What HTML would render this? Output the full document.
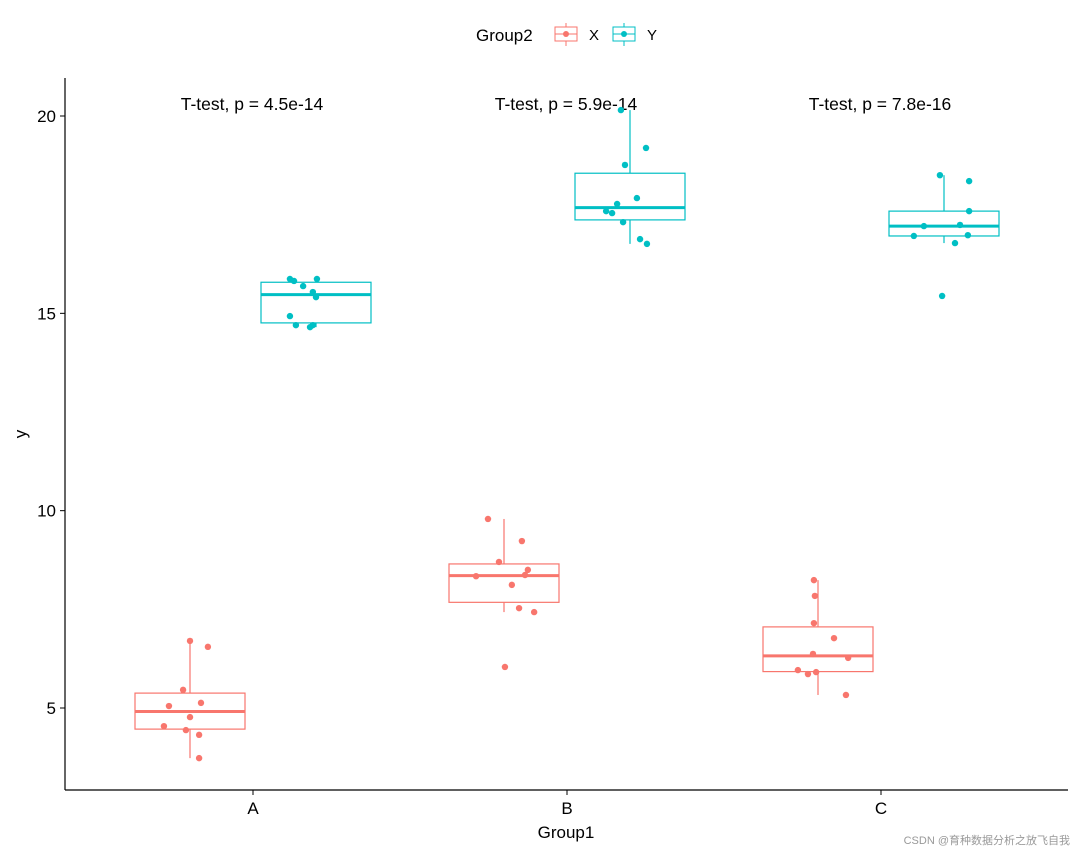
<!DOCTYPE html>
<html><head><meta charset="utf-8"><style>
body{margin:0;background:#fff}
svg text{font-family:"Liberation Sans",Arial,sans-serif}
</style></head><body>
<svg id="c" width="1080" height="852" xmlns="http://www.w3.org/2000/svg">
<g id="legend">
<text x="476" y="41" font-size="17" fill="#000">Group2</text>
<g>
<line x1="566" y1="23" x2="566" y2="46" stroke="#F8766D"/><rect x="555" y="27" width="22" height="14" fill="#fff" stroke="#F8766D"/><line x1="555" y1="34" x2="577" y2="34" stroke="#F8766D"/><circle cx="566" cy="34" r="3" fill="#F8766D"/>
<text x="589" y="40" font-size="15">X</text></g>
<g>
<line x1="624" y1="23" x2="624" y2="46" stroke="#00BFC4"/><rect x="613" y="27" width="22" height="14" fill="#fff" stroke="#00BFC4"/><line x1="613" y1="34" x2="635" y2="34" stroke="#00BFC4"/><circle cx="624" cy="34" r="3" fill="#00BFC4"/>
<text x="647" y="40" font-size="15">Y</text></g>
</g>
<g id="plot"></g>
<text x="1070" y="844" font-size="11" fill="#999" text-anchor="end" font-family="Liberation Sans, Noto Sans CJK SC, sans-serif">CSDN @育种数据分析之放飞自我</text>
</svg>
<script>
const categories=["A","B","C"];
const groups=["X","Y"];
const pvalues=["4.5e-14","5.9e-14","7.8e-16"];
const yTicks=[5,10,15,20];
const AX=[6.70,6.55,5.46,5.05,5.13,4.77,4.54,4.44,4.32,3.73];
const AXj=[0,0.057,-0.022,-0.067,0.035,0,-0.083,-0.013,0.029,0.029];
const BX=[9.79,9.23,8.70,8.34,8.50,8.37,8.12,7.53,7.43,6.04];
const BXj=[-0.051,0.057,-0.016,-0.089,0.076,0.067,0.025,0.048,0.096,0.003];
const CX=[8.24,7.84,7.15,6.77,6.37,6.27,5.96,5.86,5.91,5.33];
const CXj=[-0.013,-0.010,-0.013,0.051,-0.016,0.096,-0.064,-0.032,-0.006,0.089];
const AY=[15.87,15.82,15.87,15.69,15.54,15.41,14.93,14.70,14.65,14.70];
const AYj=[-0.083,-0.070,0.003,-0.041,-0.010,0,-0.083,-0.064,-0.019,-0.010];
const BY=[20.15,19.19,18.76,17.92,17.77,17.59,17.54,17.31,16.88,16.76];
const BYj=[-0.029,0.051,-0.016,0.022,-0.041,-0.076,-0.057,-0.022,0.032,0.054];
const CY=[18.50,18.35,17.59,17.24,17.21,16.98,16.96,16.78,15.44];
const CYj=[-0.013,0.080,0.080,0.051,-0.064,0.076,-0.096,0.035,-0.006];
const series={A:{X:[AX,AXj],Y:[AY,AYj]},B:{X:[BX,BXj],Y:[BY,BYj]},C:{X:[CX,CXj],Y:[CY,CYj]}};
const colors={X:"#F8766D",Y:"#00BFC4"};
const L=65,R=1068,T=78,B=790;
const yS=v=>708-(v-5)*(708-116)/15;
const step=314, x0=253;
const xS=i=>x0+i*step;
const dodge=63, bw=110;
const NS="http://www.w3.org/2000/svg";
const plot=document.getElementById("plot");
function mk(t,a,p){const e=document.createElementNS(NS,t);for(const k in a)e.setAttribute(k,a[k]);(p||plot).appendChild(e);return e;}
function q(s,p){const a=[...s].sort((x,y)=>x-y);const h=(a.length-1)*p;const l=Math.floor(h);return a[l]+(h-l)*((a[Math.min(l+1,a.length-1)])-a[l]);}
let e=mk("line",{x1:L,y1:T,x2:L,y2:B,stroke:"#000","stroke-width":1.2});

e=mk("line",{x1:L,y1:B,x2:R,y2:B,stroke:"#000","stroke-width":1.2});

yTicks.forEach(v=>{
 const y=yS(v);
 let t=mk("line",{x1:L-5,y1:y,x2:L,y2:y,stroke:"#000"});
 
 t=mk("text",{x:L-9,y:y+6,"font-size":17,"text-anchor":"end",fill:"#000"});t.textContent=v;
 
});
categories.forEach((c,i)=>{
 const x=xS(i);
 let t=mk("line",{x1:x,y1:B,x2:x,y2:B+5,stroke:"#000"});
 
 t=mk("text",{x:x,y:814,"font-size":17,"text-anchor":"middle"});t.textContent=c;
 
 t=mk("text",{x:x-1,y:110,"font-size":17.5,"text-anchor":"middle"});t.textContent="T-test, p = "+pvalues[i];
 
 groups.forEach((g,gi)=>{
  const [vals,jit]=series[c][g];const col=colors[g];
  const cx=x+(gi?dodge:-dodge);
  const q1=q(vals,.25),q3=q(vals,.75),md=q(vals,.5),iqr=q3-q1;
  const lo=Math.min(...vals.filter(v=>v>=q1-1.5*iqr)),hi=Math.max(...vals.filter(v=>v<=q3+1.5*iqr));
  const gg=mk("g",{});
  
  mk("line",{x1:cx,y1:yS(hi),x2:cx,y2:yS(q3),stroke:col,"stroke-width":1.2},gg);
  mk("line",{x1:cx,y1:yS(q1),x2:cx,y2:yS(lo),stroke:col,"stroke-width":1.2},gg);
  mk("rect",{x:cx-bw/2,y:yS(q3),width:bw,height:yS(q1)-yS(q3),fill:"none",stroke:col,"stroke-width":1.2},gg);
  mk("line",{x1:cx-bw/2,y1:yS(md),x2:cx+bw/2,y2:yS(md),stroke:col,"stroke-width":3},gg);
  vals.forEach((v,k)=>{
   const p=mk("circle",{cx:cx+jit[k]*step,cy:yS(v),r:3.2,fill:col});
   
  });
 });
});
e=mk("text",{x:566,y:838,"font-size":17,"text-anchor":"middle"});e.textContent="Group1";

e=mk("text",{x:26,y:434,"font-size":17,"text-anchor":"middle",transform:"rotate(-90 26 434)"});e.textContent="y";

</script>
</body></html>
